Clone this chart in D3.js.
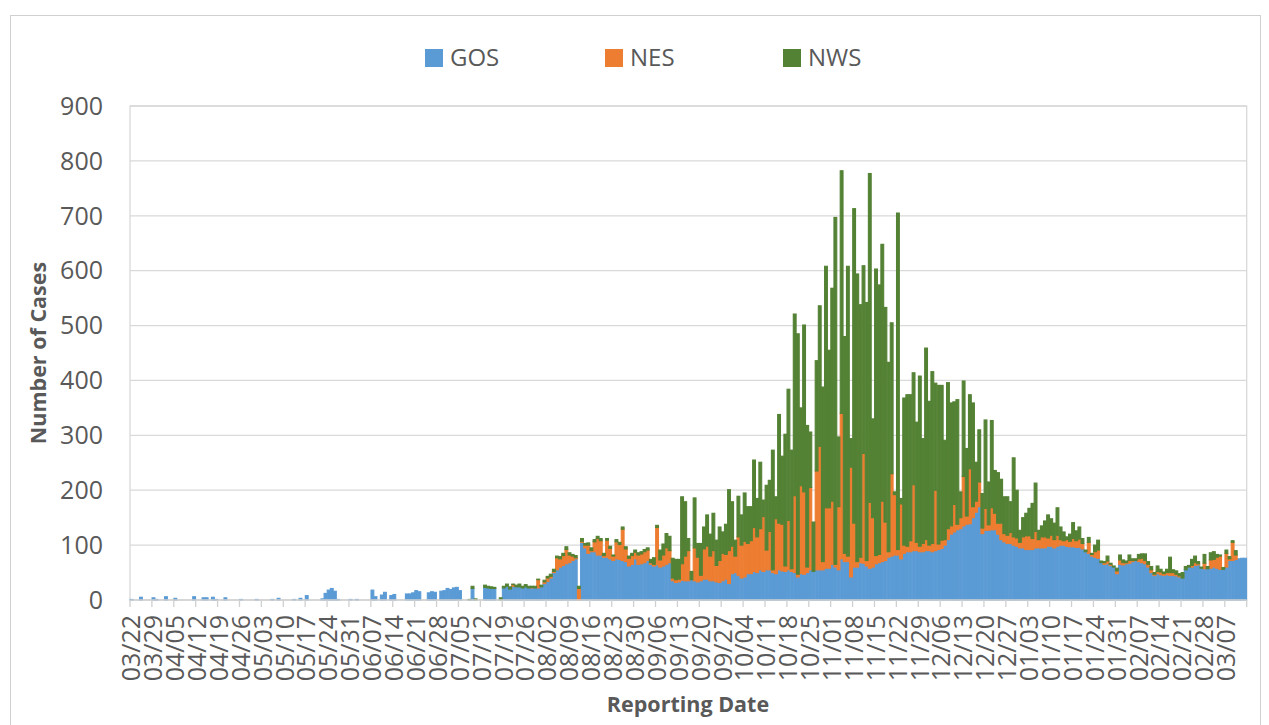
<!DOCTYPE html>
<html>
<head>
<meta charset="utf-8">
<script src="https://cdn.jsdelivr.net/npm/d3@7"></script>
<style>
  body { margin: 0; background: #fff; }
  text { font-family: "Open Sans", sans-serif; fill: #595959; }
</style>
</head>
<body>
<div id="chart"></div>
<script>
// weekly tick labels (every 7th reporting day)
const weekLabels = ["03/22","03/29","04/05","04/12","04/19","04/26","05/03","05/10","05/17","05/24",
  "05/31","06/07","06/14","06/21","06/28","07/05","07/12","07/19","07/26","08/02",
  "08/09","08/16","08/23","08/30","09/06","09/13","09/20","09/27","10/04","10/11",
  "10/18","10/25","11/01","11/08","11/15","11/22","11/29","12/06","12/13","12/20",
  "12/27","01/03","01/10","01/17","01/24","01/31","02/07","02/14","02/21","02/28","03/07"];

// daily cases, one group of 7 per week
const gos = [
  1,0,0,5,0,0,0,  4,1,0,0,6,0,0,  3,0,0,0,0,0,6,  0,0,4,4,0,5,1,  0,0,4,0,0,0,0,
  1,0,0,0,0,1,0,  0,0,0,1,0,3,0,  0,0,0,1,0,3,0,  8,0,0,0,0,2,12, 18,21,16,1,0,0,0,
  1,0,1,0,0,0,0,  18,6,0,9,14,0,8, 10,0,0,0,11,11,13, 17,15,0,0,13,15,14, 0,16,17,21,19,22,23,
  17,0,0,0,21,0,0, 0,23,22,21,21,0,0, 22,25,20,25,24,24,22, 24,22,22,22,22,24,30, 34,40,50,55,60,63,66,
  68,72,75,0,105,95,85, 88,88,82,82,78,78,75, 72,75,74,72,70,62,65, 75,65,66,68,72,65,62, 64,60,62,65,68,35,32,
  33,36,35,35,37,35,33, 35,38,38,35,35,33,32, 35,38,30,48,50,45,40, 42,48,48,52,50,55,52, 55,55,50,48,55,53,52,
  55,52,50,42,48,47,50, 55,52,55,55,55,58,58, 65,60,55,75,70,70,42, 60,60,68,67,62,58,60, 66,68,70,72,78,80,82,
  82,75,85,88,88,90,90, 88,88,90,90,88,90,92, 94,100,110,120,124,128,130, 135,138,139,150,160,170,121, 127,127,128,128,120,110,106,
  103,103,100,98,95,95,92, 92,92,95,95,95,95,98, 98,95,98,100,100,98,97, 97,96,96,93,88,85,80, 78,76,68,65,66,63,60,
  48,65,64,66,67,70,72, 70,68,66,60,50,45,48, 46,45,46,45,45,44,42, 40,55,60,60,63,64,58, 57,57,58,60,58,56,56,
  60,72,72,74,75,76,76
];
const nes = [
  0,0,0,0,0,0,0, 0,0,0,0,0,0,0, 0,0,0,0,0,0,0, 0,0,0,0,0,0,0, 0,0,0,0,0,0,0,
  0,0,0,0,0,0,0, 0,0,0,0,0,0,0, 0,0,0,0,0,0,0, 0,0,0,0,0,0,0, 0,0,0,0,0,0,0,
  0,0,0,0,0,0,0, 0,0,0,0,0,0,0, 0,0,0,0,0,0,0, 0,0,0,0,0,0,0, 0,0,0,0,0,0,0,
  0,0,0,0,0,0,0, 0,0,0,0,0,0,0, 0,0,0,3,0,0,0, 0,0,1,0,15,0,3, 6,3,2,22,15,18,26,
  14,8,2,21,2,5,15, 2,18,30,26,3,31,19, 8,31,27,57,23,14,16, 12,17,18,20,19,3,3, 68,13,20,30,22,5,5,
  5,30,45,55,0,60,45, 10,55,60,45,55,30,40, 50,45,60,50,30,70,60, 65,55,60,80,65,75,100, 36,70,5,100,85,85,10,
  90,5,140,5,160,150,10, 150,0,180,225,15,110,110, 115,5,115,265,15,10,200, 80,10,10,200,10,120,90, 15,15,110,70,10,150,110,
  10,100,15,10,20,120,15, 10,15,20,10,15,110,10, 15,10,20,15,50,10,20, 90,15,100,20,20,45,10, 40,10,40,30,20,30,15,
  15,20,15,15,10,20,25, 25,20,30,15,20,20,15, 20,15,20,10,8,12,10, 15,12,15,10,0,20,3, 10,15,0,3,5,2,0,
  5,8,4,2,5,2,0, 5,8,6,5,5,2,4, 5,3,4,5,5,3,2, 0,0,0,3,5,2,0, 10,0,15,14,20,24,0,
  25,3,33,8,0,0,0
];
const nws = [
  0,0,0,0,0,0,0, 0,0,0,0,0,0,0, 0,0,0,0,0,0,0, 0,0,0,0,0,0,0, 0,0,0,0,0,0,0,
  0,0,0,0,0,0,0, 0,0,0,0,0,0,0, 0,0,0,0,0,0,0, 0,0,0,0,0,0,0, 0,0,0,0,0,0,0,
  0,0,0,0,0,0,0, 0,0,0,0,0,0,0, 0,0,0,0,0,0,0, 0,0,0,0,0,0,0, 0,0,0,0,0,0,0,
  0,0,0,1,4,2,0, 0,4,3,3,2,0,4, 3,4,4,1,3,5,3, 4,3,2,3,1,3,3, 3,4,4,3,4,4,5,
  4,3,4,4,5,3,4, 5,4,4,4,4,3,4, 2,4,4,4,4,4,4, 4,4,4,4,4,6,12, 4,18,20,26,26,36,37,
  36,122,99,22,15,91,25, 58,40,57,40,68,46,61, 39,55,111,81,29,74,55, 88,67,62,123,70,121,30, 118,93,218,40,198,124,240,
  239,216,331,438,142,304,258, 101,90,201,256,318,440,287, 388,632,127,442,395,528,52, 573,524,460,342,470,599,180, 522,491,468,391,345,275,5,
  613,10,268,276,266,204,219, 310,191,349,262,313,195,289, 282,181,266,224,187,227,47, 174,123,135,189,71,95,63, 161,78,159,78,92,80,67,
  70,56,144,87,22,35,41, 50,64,88,17,20,29,42, 30,30,50,23,16,5,13, 29,18,22,9,3,9,2, 12,18,3,2,9,2,2,
  5,9,5,3,10,3,3, 8,8,12,5,6,3,10, 5,3,6,28,5,6,4, 10,6,3,11,12,4,2, 16,4,13,14,5,2,3,
  6,4,3,8,0,0,0
];

const seriesNames = ["GOS", "NES", "NWS"];
const yTicks = [0, 100, 200, 300, 400, 500, 600, 700, 800, 900];

const width = 1269, height = 725;
const plot = { left: 130, right: 1246.7, top: 106, bottom: 600 };

const svg = d3.select("#chart")
  .append("svg")
  .attr("width", width)
  .attr("height", height);

// chart frame
svg.append("rect")
  .attr("x", 10.5).attr("y", 15.5)
  .attr("width", 1250).attr("height", 730)
  .attr("fill", "none")
  .attr("stroke", "#d0d0d0");

const rows = gos.map((g, i) => ({ i: i, GOS: g, NES: nes[i], NWS: nws[i] }));

const x = d3.scaleBand()
  .domain(d3.range(rows.length))
  .range([plot.left, plot.right])
  .paddingInner(0.1)
  .paddingOuter(0.05);

const y = d3.scaleLinear()
  .domain([0, 900])
  .range([plot.bottom, plot.top]);

const colors = d3.scaleOrdinal()
  .domain(seriesNames)
  .range(["#5b9bd5", "#ed7d31", "#548235"]);

// gridlines
svg.append("g")
  .selectAll("line")
  .data(yTicks.slice(1))
  .enter().append("line")
  .attr("x1", plot.left).attr("x2", plot.right)
  .attr("y1", d => y(d)).attr("y2", d => y(d))
  .attr("stroke", "#d9d9d9")
  .attr("stroke-width", 1.3);

// plot border
svg.append("rect")
  .attr("x", plot.left).attr("y", plot.top)
  .attr("width", plot.right - plot.left).attr("height", plot.bottom - plot.top)
  .attr("fill", "none")
  .attr("stroke", "#d9d9d9")
  .attr("stroke-width", 1.3);

// stacked bars (outlined in their own colour, so later series overlap a little)
const stacked = d3.stack().keys(seriesNames)(rows);

svg.append("g")
  .selectAll("g")
  .data(stacked)
  .enter().append("g")
  .attr("fill", d => colors(d.key))
  .attr("stroke", d => colors(d.key))
  .attr("stroke-width", 1.1)
  .selectAll("rect")
  .data(d => d.filter(s => s[1] > s[0]))
  .enter().append("rect")
  .attr("x", d => x(d.data.i))
  .attr("y", d => y(d[1]))
  .attr("width", x.bandwidth())
  .attr("height", d => y(d[0]) - y(d[1]));

// x axis line and weekly tick marks
const step = x.step();
svg.append("line")
  .attr("x1", plot.left).attr("x2", plot.right)
  .attr("y1", plot.bottom).attr("y2", plot.bottom)
  .attr("stroke", "#d0d0d0")
  .attr("stroke-width", 1.3);

svg.append("g")
  .selectAll("line")
  .data(d3.range(weekLabels.length + 1))
  .enter().append("line")
  .attr("x1", k => Math.min(plot.left + k * 7 * step, plot.right))
  .attr("x2", k => Math.min(plot.left + k * 7 * step, plot.right))
  .attr("y1", plot.bottom).attr("y2", plot.bottom + 7)
  .attr("stroke", "#d0d0d0")
  .attr("stroke-width", 1.3);

svg.append("g")
  .selectAll("text")
  .data(weekLabels)
  .enter().append("text")
  .attr("transform", (d, k) => `translate(${x(k * 7) + x.bandwidth() / 2},${plot.bottom + 15}) rotate(-90)`)
  .attr("text-anchor", "end")
  .attr("dy", "0.35em")
  .style("font-size", "25px")
  .text(d => d);

// y tick labels
svg.append("g")
  .selectAll("text")
  .data(yTicks)
  .enter().append("text")
  .attr("x", 103)
  .attr("y", d => y(d))
  .attr("dy", "0.35em")
  .attr("text-anchor", "end")
  .style("font-size", "25px")
  .text(d => d);

// axis titles
svg.append("text")
  .attr("transform", "translate(38,353) rotate(-90)")
  .attr("text-anchor", "middle")
  .attr("dy", "0.35em")
  .style("font-size", "21.5px")
  .style("font-weight", "bold")
  .text("Number of Cases");

svg.append("text")
  .attr("x", 688)
  .attr("y", 704)
  .attr("text-anchor", "middle")
  .attr("dy", "0.35em")
  .style("font-size", "21.5px")
  .style("font-weight", "bold")
  .text("Reporting Date");

// legend
const legendX = [425, 605, 783];
const legend = svg.selectAll(".legend")
  .data(seriesNames)
  .enter().append("g")
  .attr("class", "legend")
  .attr("transform", (d, i) => `translate(${legendX[i]},58)`);

legend.append("rect")
  .attr("x", 0).attr("y", -9)
  .attr("width", 18).attr("height", 18)
  .attr("fill", d => colors(d));

legend.append("text")
  .attr("x", 25)
  .attr("dy", "0.35em")
  .style("font-size", "24px")
  .text(d => d);
</script>
</body>
</html>
